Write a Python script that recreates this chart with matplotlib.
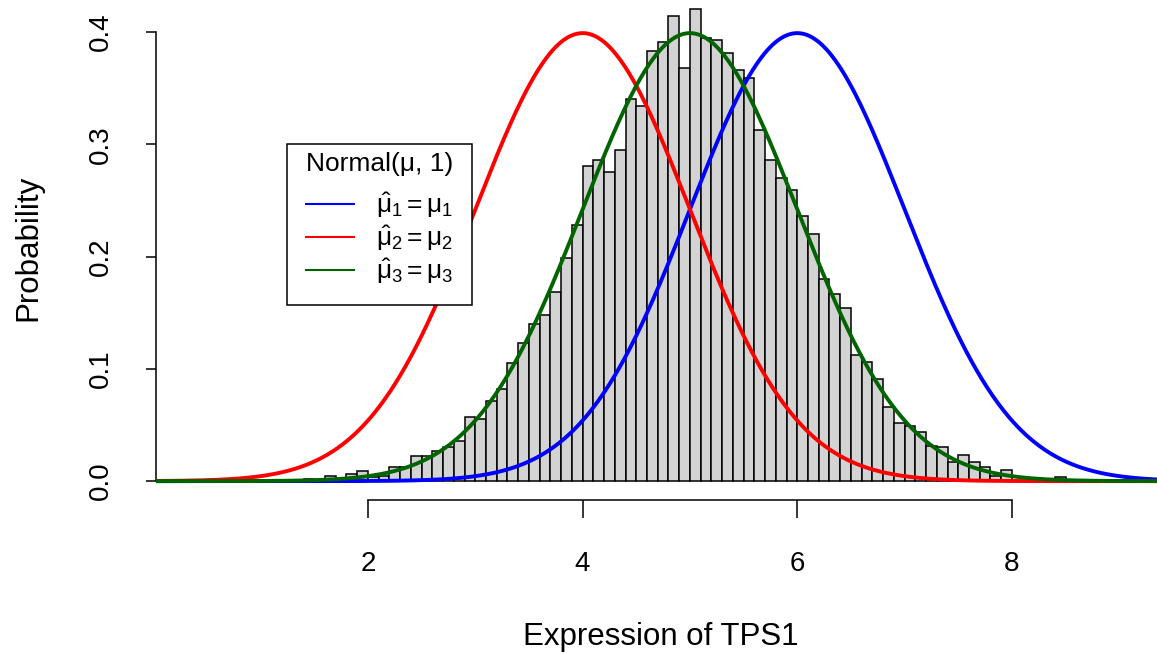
import numpy as np
import matplotlib
matplotlib.use('Agg')
import matplotlib.pyplot as plt
from matplotlib.lines import Line2D

plt.rcParams['font.family'] = ['Liberation Sans', 'DejaVu Sans']
plt.rcParams['mathtext.fontset'] = 'custom'
plt.rcParams['mathtext.rm'] = 'Liberation Sans'
plt.rcParams['mathtext.it'] = 'Liberation Sans'

# histogram of expression values (density, bin width 0.1, first bin starts at 1.4)
bin_start = 1.4
bin_width = 0.1
density = [
    0.002, 0.000, 0.005, 0.002, 0.006, 0.009, 0.004, 0.005, 0.013, 0.013,   # 1.4 - 2.3
    0.022, 0.022, 0.027, 0.030, 0.036, 0.057, 0.055, 0.071, 0.082, 0.105,   # 2.4 - 3.3
    0.123, 0.140, 0.148, 0.168, 0.199, 0.228, 0.281, 0.286, 0.275, 0.295,   # 3.4 - 4.3
    0.340, 0.334, 0.383, 0.391, 0.414, 0.368, 0.420, 0.395, 0.393, 0.381,   # 4.4 - 5.3
    0.366, 0.359, 0.313, 0.286, 0.270, 0.259, 0.236, 0.220, 0.180, 0.167,   # 5.4 - 6.3
    0.154, 0.112, 0.106, 0.091, 0.066, 0.052, 0.049, 0.044, 0.031, 0.030,   # 6.4 - 7.3
    0.017, 0.023, 0.017, 0.013, 0.005, 0.010, 0.000, 0.000, 0.000, 0.000,   # 7.4 - 8.3
    0.004,                                                                  # 8.4
]

# normal curves, sd = 1
means = [6, 4, 5]
colors = ['#0000FF', '#FF0000', '#006400']
legend_labels = [r'$\hat{\mu}_1 = \mu_1$', r'$\hat{\mu}_2 = \mu_2$', r'$\hat{\mu}_3 = \mu_3$']
legend_title = 'Normal(\u03bc, 1)'

xticks = [2, 4, 6, 8]
yticks = [0.0, 0.1, 0.2, 0.3, 0.4]

W, H = 1157, 654
fig = plt.figure(figsize=(W / 100, H / 100), dpi=100)
ax_left, ax_right = 156, 1157
ax_bottom, ax_top = 500, -9.4
ax = fig.add_axes([ax_left / W, 1 - ax_bottom / H,
                   (ax_right - ax_left) / W, (ax_bottom - ax_top) / H])

lefts = [bin_start + i * bin_width for i in range(len(density))]
ax.bar(lefts, density, width=bin_width, align='edge',
       color='#D3D3D3', edgecolor='black', linewidth=1.1, zorder=2)

xs = np.linspace(0, 10, 800)
for m, c in zip(means, colors):
    ys = np.exp(-0.5 * (xs - m) ** 2) / np.sqrt(2 * np.pi)
    ax.plot(xs, ys, color=c, lw=2.8, zorder=3, solid_capstyle='butt')

ax.set_xlim(0.025, 9.352)
ax.set_ylim(-0.0168, 0.4368)

for s in ['top', 'right']:
    ax.spines[s].set_visible(False)
ax.spines['left'].set_bounds(0, 0.4)
ax.spines['bottom'].set_bounds(2, 8)
ax.spines['left'].set_linewidth(1.1)
ax.spines['bottom'].set_linewidth(1.1)

ax.set_xticks(xticks)
ax.set_xticklabels([str(t) for t in xticks])
ax.set_yticks(yticks)
ax.set_yticklabels(['%.1f' % t for t in yticks])
ax.tick_params(axis='x', length=13, width=1.1, pad=24, labelsize=20)
ax.tick_params(axis='y', length=7.5, width=1.1, pad=32, labelsize=20)
for lbl in ax.get_yticklabels():
    lbl.set_rotation(90)
    lbl.set_va('center')
    lbl.set_ha('center')

fig.text(661 / W, 1 - 645 / H, 'Expression of TPS1',
         ha='center', va='baseline', fontsize=22.5)
fig.text(36 / W, 1 - 248 / H, 'Probability', rotation=90, rotation_mode='anchor',
         ha='center', va='baseline', fontsize=22.5)

handles = [Line2D([], [], color=c, lw=1.5) for c in colors]
leg = ax.legend(handles, legend_labels, title=legend_title,
                loc='upper left', bbox_to_anchor=(287 / W, 1 - 144 / H),
                bbox_transform=fig.transFigure, fontsize=19, title_fontsize=19,
                frameon=True, fancybox=False, framealpha=1, edgecolor='black',
                borderaxespad=0, handlelength=1.8, handletextpad=0.85,
                labelspacing=0.12, borderpad=0.3)
leg._legend_handle_box.pad = 8
leg.get_frame().set_linewidth(1.1)
leg.set_zorder(5)

fig.savefig('out.png', dpi=100)
